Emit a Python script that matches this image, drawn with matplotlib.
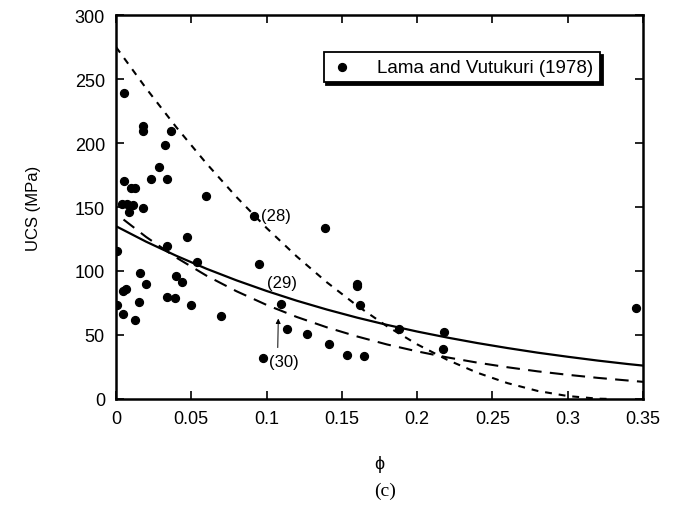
import matplotlib.pyplot as plt
import numpy as np

# Lama and Vutukuri (1978) data, porosity vs UCS (MPa)
phi = [0.0055, 0.0177, 0.0177, 0.0365, 0.0325, 0.0286, 0.0055, 0.0232, 0.0336,
       0.0098, 0.0126, 0.0598, 0.0038, 0.0075, 0.0115, 0.0088, 0.0177, 0.0916,
       0.1388, 0.0469, 0.0341, 0.0009, 0.054, 0.0952, 0.0159, 0.0398, 0.0438,
       0.0199, 0.1598, 0.1598, 0.0049, 0.0064, 0.034, 0.0392, 0.0009, 0.0153,
       0.05, 0.1098, 0.162, 0.3453, 0.0049, 0.0124, 0.0695, 0.1138, 0.1881,
       0.2178, 0.1266, 0.1412, 0.2169, 0.1536, 0.1647, 0.0978]
ucs = [239, 213.5, 209, 209.4, 198.7, 181, 170.5, 171.6, 171.9,
       164.6, 164.6, 158.4, 152.3, 152.3, 151.6, 145.8, 149, 143.2,
       133.4, 126.8, 119.8, 115.9, 107.3, 105.2, 98.2, 96.4, 91.4,
       89.6, 89.8, 88, 84.6, 85.9, 79.4, 78.9, 73.7, 75.5,
       73.4, 74.5, 73.7, 71.4, 66.4, 62, 64.6, 54.7, 54.7,
       52.6, 50.8, 43, 39.1, 34.4, 33.6, 32.3]

# curve (28) - short dashes
phi28 = [0, 0.02, 0.04, 0.06, 0.08, 0.10, 0.12, 0.14, 0.16, 0.18, 0.20, 0.22,
         0.24, 0.26, 0.28, 0.30, 0.32, 0.33]
ucs28 = [275, 242.7, 212.4, 184.1, 157.8, 133.6, 111.4, 91.2, 73.0, 56.8, 42.7,
         30.6, 20.5, 12.4, 6.3, 2.3, 0.25, 0]

# curve (29) - solid
phi29 = [0, 0.02, 0.04, 0.06, 0.08, 0.10, 0.12, 0.14, 0.16, 0.18, 0.20, 0.22,
         0.24, 0.26, 0.28, 0.30, 0.32, 0.34, 0.35]
ucs29 = [135, 122.9, 111.9, 101.8, 92.7, 84.4, 76.8, 69.9, 63.6, 57.9, 52.7,
         48.0, 43.7, 39.8, 36.2, 33.0, 30.0, 27.3, 26.1]

# curve (30) - long dashes
phi30 = [0.005, 0.02, 0.04, 0.06, 0.08, 0.10, 0.12, 0.14, 0.16, 0.18, 0.20,
         0.22, 0.24, 0.26, 0.28, 0.30, 0.32, 0.35]
ucs30 = [140.2, 126.6, 110.5, 96.4, 84.2, 73.5, 64.1, 56.0, 48.9, 42.6, 37.2,
         32.5, 28.4, 24.8, 21.6, 18.9, 16.5, 13.4]

xticks = [0, 0.05, 0.1, 0.15, 0.2, 0.25, 0.3, 0.35]
xticklabels = ['0', '0.05', '0.1', '0.15', '0.2', '0.25', '0.3', '0.35']
yticks = [0, 50, 100, 150, 200, 250, 300]

plt.rcParams['font.family'] = ['Liberation Sans', 'DejaVu Sans']

fig = plt.figure(figsize=(6.78, 5.10), dpi=100)
ax = fig.add_axes([0.1711, 0.2157, 0.7773, 0.7529])

ax.plot(phi28, ucs28, color='black', lw=1.5, dashes=(3.3, 3.3))
ax.plot(phi29, ucs29, color='black', lw=1.6)
ax.plot(phi30, ucs30, color='black', lw=1.5, dashes=(6.5, 4))
ax.scatter(phi, ucs, s=32, color='black', zorder=3, label='Lama and Vutukuri (1978)')

ax.text(0.0965, 143, '(28)', fontsize=12, va='center', ha='left')
ax.text(0.1, 91, '(29)', fontsize=12, va='center', ha='left')
ax.text(0.1015, 29, '(30)', fontsize=12, va='center', ha='left')
ax.annotate('', xy=(0.1078, 65), xytext=(0.1074, 38),
            arrowprops=dict(arrowstyle='-|>', color='black', lw=0.7,
                            mutation_scale=7))

ax.set_xlim(0, 0.35)
ax.set_ylim(0, 300)
ax.set_xticks(xticks)
ax.set_xticklabels(xticklabels)
ax.set_yticks(yticks)
ax.tick_params(direction='in', top=True, right=True, length=6, width=1.2,
               labelsize=13, pad=8)
for s in ax.spines.values():
    s.set_linewidth(1.8)

ax.set_xlabel('ϕ', fontsize=13, labelpad=20)
ax.set_ylabel('UCS (MPa)', fontsize=12, labelpad=24)

leg = ax.legend(loc='upper right', bbox_to_anchor=(0.918, 0.904), fontsize=13.5,
                frameon=True, fancybox=False, shadow={'color': 'black', 'alpha': 1},
                handletextpad=1.2, borderpad=0.35, borderaxespad=0,
                handlelength=1.3)
leg.get_frame().set_edgecolor('black')
leg.get_frame().set_linewidth(1.3)

fig.text(0.568, 0.028, '(c)', fontsize=14, family='Liberation Serif', ha='center')

fig.savefig('out.png', dpi=100)
